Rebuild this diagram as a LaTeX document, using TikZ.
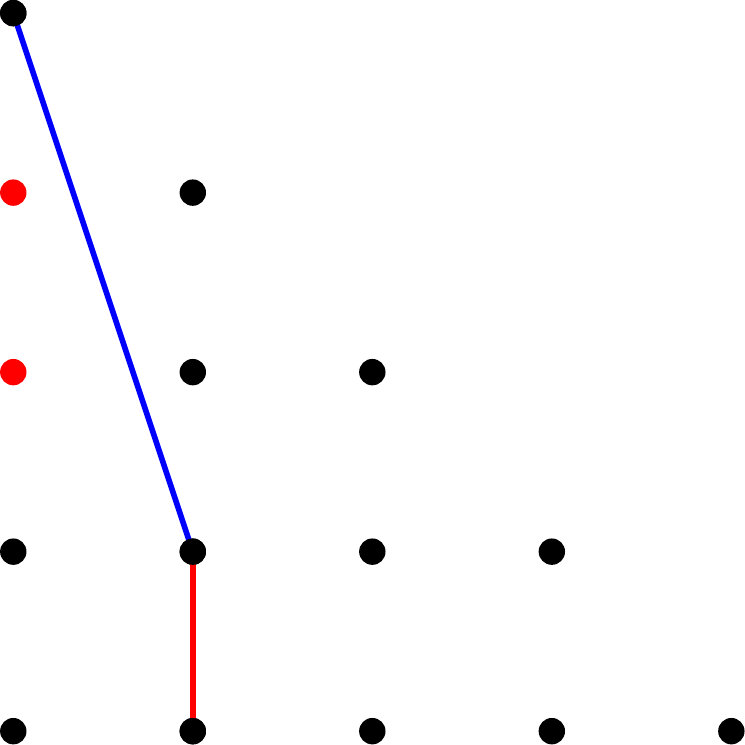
\documentclass[tikz,border=0pt]{standalone}
\begin{document}
\begin{tikzpicture}[x=1cm,y=1cm,
  dot/.style={circle,fill=black,inner sep=0pt,minimum size=0.147cm},
  rdot/.style={dot,fill=red},
  link/.style={line width=0.031cm}]
\useasboundingbox (-0.074,-0.077) rectangle (4.076,4.073);
\node[dot] (a04) at (0,4) {};
\node[rdot] (a03) at (0,3) {};
\node[dot] (a13) at (1,3) {};
\node[rdot] (a02) at (0,2) {};
\node[dot] (a12) at (1,2) {};
\node[dot] (a22) at (2,2) {};
\node[dot] (a01) at (0,1) {};
\node[dot] (a11) at (1,1) {};
\node[dot] (a21) at (2,1) {};
\node[dot] (a31) at (3,1) {};
\node[dot] (a00) at (0,0) {};
\node[dot] (a10) at (1,0) {};
\node[dot] (a20) at (2,0) {};
\node[dot] (a30) at (3,0) {};
\node[dot] (a40) at (4,0) {};
\draw[link,blue] (a04.center) -- (a11.center);
\draw[link,red] (a11.center) -- (a10.center);
\foreach \n in {a04,a11,a10} \node[dot] at (\n) {};
\end{tikzpicture}
\end{document}
